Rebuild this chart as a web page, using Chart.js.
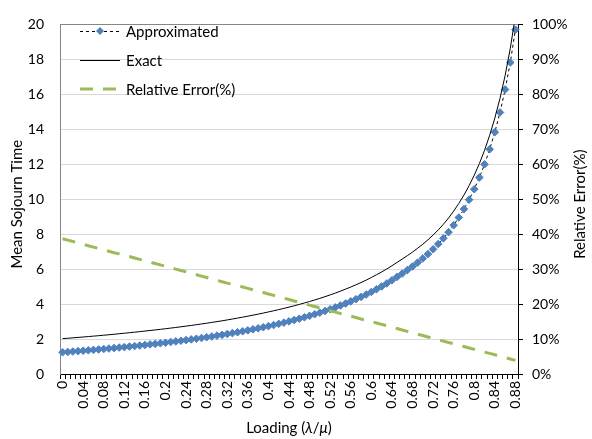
<!DOCTYPE html>
<html>
<head>
<meta charset="utf-8">
<script src="https://cdn.jsdelivr.net/npm/chart.js@4"></script>
<style>
  html, body { margin: 0; padding: 0; background: #fff; }
  #wrap { width: 592px; height: 439px; }
</style>
</head>
<body>
<div id="wrap"><canvas id="grafico"></canvas></div>
<script>
var loading = ['0','0.01','0.02','0.03','0.04','0.05','0.06','0.07','0.08','0.09',
  '0.1','0.11','0.12','0.13','0.14','0.15','0.16','0.17','0.18','0.19',
  '0.2','0.21','0.22','0.23','0.24','0.25','0.26','0.27','0.28','0.29',
  '0.3','0.31','0.32','0.33','0.34','0.35','0.36','0.37','0.38','0.39',
  '0.4','0.41','0.42','0.43','0.44','0.45','0.46','0.47','0.48','0.49',
  '0.5','0.51','0.52','0.53','0.54','0.55','0.56','0.57','0.58','0.59',
  '0.6','0.61','0.62','0.63','0.64','0.65','0.66','0.67','0.68','0.69',
  '0.7','0.71','0.72','0.73','0.74','0.75','0.76','0.77','0.78','0.79',
  '0.8','0.81','0.82','0.83','0.84','0.85','0.86','0.87','0.88'];

var approximated = [1.240,1.262,1.285,1.308,1.331,1.355,1.380,1.405,1.431,1.457,
  1.484,1.512,1.540,1.569,1.598,1.628,1.660,1.692,1.724,1.758,
  1.792,1.828,1.864,1.901,1.940,1.979,2.019,2.061,2.104,2.148,
  2.194,2.240,2.289,2.339,2.390,2.443,2.498,2.555,2.613,2.674,
  2.737,2.802,2.869,2.939,3.011,3.086,3.165,3.246,3.330,3.418,
  3.510,3.606,3.705,3.810,3.919,4.033,4.152,4.278,4.409,4.548,
  4.694,4.848,5.009,5.181,5.362,5.554,5.748,5.945,6.151,6.374,
  6.608,6.862,7.137,7.435,7.760,8.116,8.514,8.952,9.433,9.974,
  10.573,11.240,11.996,12.855,13.837,14.963,16.274,17.820,19.700];

var exact = [2.023,2.045,2.069,2.093,2.116,2.141,2.166,2.192,2.219,2.245,
  2.273,2.303,2.332,2.363,2.392,2.423,2.456,2.488,2.520,2.555,
  2.590,2.626,2.663,2.700,2.740,2.779,2.820,2.863,2.906,2.951,
  2.997,3.043,3.093,3.146,3.197,3.253,3.309,3.366,3.425,3.486,
  3.550,3.615,3.683,3.754,3.826,3.901,3.981,4.063,4.147,4.235,
  4.328,4.425,4.524,4.629,4.739,4.856,4.975,5.102,5.233,5.373,
  5.522,5.677,5.838,6.010,6.192,6.384,6.577,6.771,6.974,7.194,
  7.425,7.676,7.948,8.243,8.565,8.919,9.320,9.757,10.237,10.777,
  11.375,12.041,12.796,13.661,14.642,15.767,17.077,18.621,20.499];

var relError = [38.7,38.3,37.9,37.5,37.1,36.7,36.3,35.9,35.5,35.1,
  34.7,34.35,33.95,33.6,33.2,32.8,32.4,32.0,31.6,31.2,
  30.8,30.4,30.0,29.6,29.2,28.8,28.4,28.0,27.6,27.2,
  26.8,26.4,26.0,25.65,25.25,24.9,24.5,24.1,23.7,23.3,
  22.9,22.5,22.1,21.7,21.3,20.9,20.5,20.1,19.7,19.3,
  18.9,18.5,18.1,17.7,17.3,16.95,16.55,16.15,15.75,15.35,
  15.0,14.6,14.2,13.8,13.4,13.0,12.6,12.2,11.8,11.4,
  11.0,10.6,10.2,9.8,9.4,9.0,8.65,8.25,7.85,7.45,
  7.05,6.65,6.25,5.9,5.5,5.1,4.7,4.3,3.9];

var leftTicks = [0, 20, 2];    // min, max, step
var rightTicks = [0, 100, 10];

var azul = '#4F81BD';
var verde = '#9BBB59';
var fonte = 'Lato, "Liberation Sans", sans-serif';

// titulos e legenda desenhados a mao (legenda fica dentro da area do grafico)
var extras = {
  id: 'extras',
  afterDatasetsDraw: function(chart) {
    var ctx = chart.ctx;
    var area = chart.chartArea;
    ctx.save();
    ctx.fillStyle = '#000';
    ctx.textBaseline = 'middle';

    // legenda
    ctx.font = '15px ' + fonte;
    ctx.textAlign = 'left';
    var rows = [31, 60, 89];
    // Approximated
    ctx.strokeStyle = '#000';
    ctx.lineWidth = 1;
    ctx.setLineDash([3, 3]);
    ctx.beginPath(); ctx.moveTo(80, rows[0] + 0.5); ctx.lineTo(120, rows[0] + 0.5); ctx.stroke();
    ctx.setLineDash([]);
    ctx.fillStyle = azul;
    ctx.beginPath();
    ctx.moveTo(100, rows[0] - 4); ctx.lineTo(104, rows[0]); ctx.lineTo(100, rows[0] + 4); ctx.lineTo(96, rows[0]);
    ctx.closePath(); ctx.fill();
    // Exact
    ctx.beginPath(); ctx.moveTo(80, rows[1] + 0.5); ctx.lineTo(120, rows[1] + 0.5); ctx.stroke();
    // Relative error
    ctx.strokeStyle = verde;
    ctx.lineWidth = 3;
    ctx.setLineDash([13, 10]);
    ctx.beginPath(); ctx.moveTo(80, rows[2]); ctx.lineTo(118, rows[2]); ctx.stroke();
    ctx.setLineDash([]);
    ctx.fillStyle = '#000';
    ctx.fillText('Approximated', 126, rows[0] + 1);
    ctx.fillText('Exact', 126, rows[1] + 1);
    ctx.fillText('Relative Error(%)', 126, rows[2] + 1);

    // titulos dos eixos
    var midY = (area.top + area.bottom) / 2;
    ctx.textAlign = 'center';
    ctx.font = '15px ' + fonte;
    ctx.save();
    ctx.translate(17, midY + 5);
    ctx.rotate(-Math.PI / 2);
    ctx.fillText('Mean Sojourn Time', 0, 0);
    ctx.restore();
    ctx.save();
    ctx.translate(580, midY + 5);
    ctx.rotate(-Math.PI / 2);
    ctx.fillText('Relative Error(%)', 0, 0);
    ctx.restore();

    // Loading (λ/μ) com letras gregas em italico
    var partes = [['Loading (', false], ['\u03BB', true], ['/', false], ['\u03BC', true], [')', false]];
    var total = 0;
    partes.forEach(function(p) {
      ctx.font = (p[1] ? 'italic ' : '') + '15px ' + fonte;
      p.push(ctx.measureText(p[0]).width);
      total += p[2];
    });
    var x = (area.left + area.right) / 2 - total / 2;
    ctx.textAlign = 'left';
    partes.forEach(function(p) {
      ctx.font = (p[1] ? 'italic ' : '') + '15px ' + fonte;
      ctx.fillText(p[0], x, 428);
      x += p[2];
    });
    ctx.restore();
  }
};

var grafico = document.getElementById('grafico').getContext('2d');
var dados = {
  type: 'line',
  data: {
    labels: loading,
    datasets: [{
        label: 'Approximated',
        data: approximated,
        yAxisID: 'y',
        borderColor: '#000',
        borderWidth: 1,
        borderDash: [3, 3],
        pointStyle: 'rectRot',
        pointRadius: 3.8,
        pointBorderWidth: 1,
        pointBackgroundColor: azul,
        pointBorderColor: azul,
        order: 3
      },
      {
        label: 'Exact',
        data: exact,
        yAxisID: 'y',
        borderColor: '#000',
        borderWidth: 1,
        pointRadius: 0,
        order: 2
      },
      {
        label: 'Relative Error(%)',
        data: relError,
        yAxisID: 'y2',
        borderColor: verde,
        borderWidth: 3,
        borderDash: [13, 10],
        pointRadius: 0,
        order: 1
    }]
  },
  options: {
    responsive: true,
    maintainAspectRatio: false,
    animation: false,
    layout: { padding: { top: 13, left: 0, right: 0, bottom: 0 } },
    plugins: {
      legend: { display: false },
      tooltip: { enabled: false }
    },
    scales: {
      x: {
        type: 'category',
        offset: true,
        afterFit: function(s) { s.height = 65; },
        border: { color: '#000', width: 1 },
        grid: {
          offset: true,
          drawOnChartArea: false,
          drawTicks: true,
          tickLength: 5,
          color: '#000'
        },
        ticks: {
          autoSkip: false,
          minRotation: 90,
          maxRotation: 90,
          padding: 2,
          color: '#000',
          font: { family: fonte, size: 14 },
          callback: function(v, i) { return i % 4 === 0 ? loading[i] : ''; }
        }
      },
      y: {
        position: 'left',
        min: leftTicks[0],
        max: leftTicks[1],
        afterFit: function(s) { s.width = 60; },
        border: { color: '#868686', width: 1 },
        grid: {
          drawTicks: false,
          color: function(c) { return c.tick && c.tick.value === 20 ? '#868686' : '#D9D9D9'; }
        },
        ticks: {
          stepSize: leftTicks[2],
          padding: 16,
          color: '#000',
          font: { family: fonte, size: 14 }
        }
      },
      y2: {
        position: 'right',
        min: rightTicks[0],
        max: rightTicks[1],
        afterFit: function(s) { s.width = 74; },
        border: { color: '#000', width: 1 },
        grid: {
          drawOnChartArea: false,
          drawTicks: true,
          tickLength: 5,
          color: '#000'
        },
        ticks: {
          stepSize: rightTicks[2],
          padding: 9,
          color: '#000',
          font: { family: fonte, size: 14 },
          callback: function(v) { return v + '%'; }
        }
      }
    }
  },
  plugins: [extras]
};
new Chart(grafico, dados);
</script>
</body>
</html>
